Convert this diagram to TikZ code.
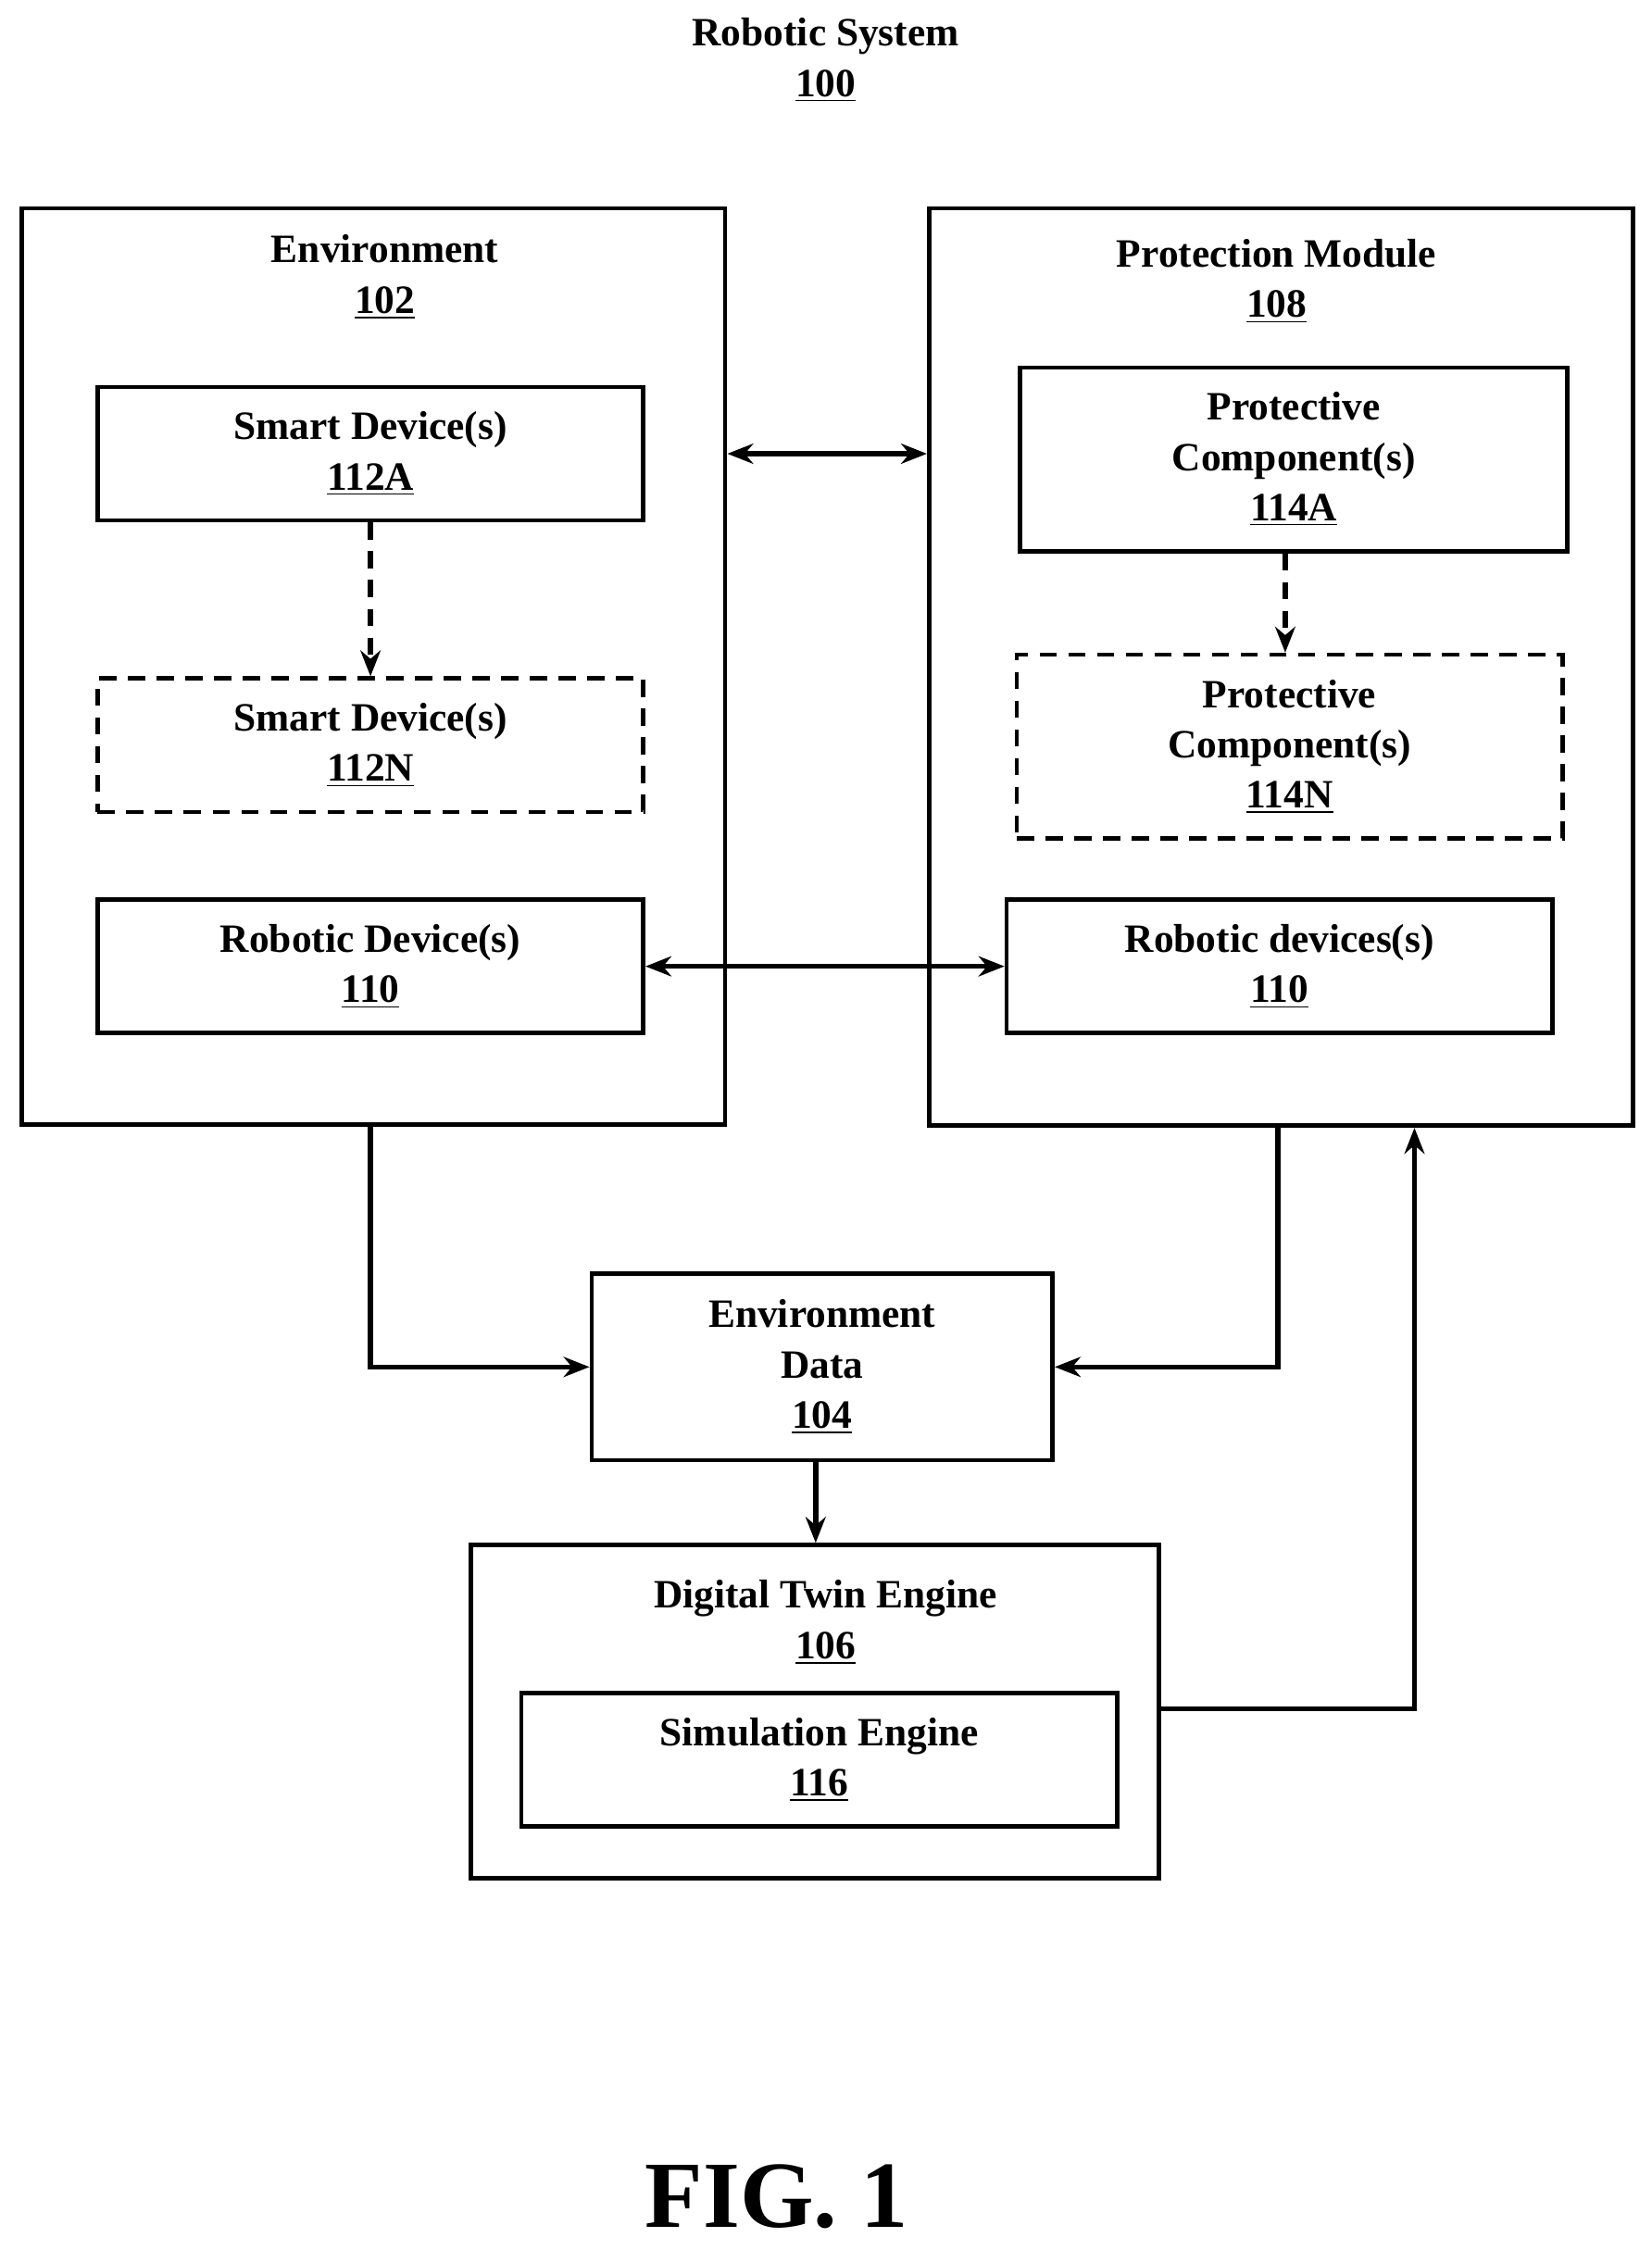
\documentclass[tikz,border=0pt]{standalone}
\usepackage{fontspec}
\setmainfont{Liberation Serif}
\usetikzlibrary{arrows.meta}
\tikzset{
    blk/.style={draw, line width=1.5pt, align=center, font=\bfseries\fontsize{14}{17.5}\selectfont, inner sep=0pt},
    dblk/.style={blk, dash pattern=on 6pt off 4pt},
    lbl/.style={align=center, font=\bfseries\fontsize{14}{17.5}\selectfont},
    conn/.style={draw, line width=1.8pt, -{Stealth[length=9pt,width=7pt]}},
    biconn/.style={draw, line width=1.8pt, {Stealth[length=9pt,width=7pt]}-{Stealth[length=9pt,width=7pt]}},
    dconn/.style={conn, dash pattern=on 6pt off 4pt},
}
\begin{document}
\begin{tikzpicture}[x=0.5pt,y=-0.5pt]
    \useasboundingbox (0,0) rectangle (1150,1567);
    \node[lbl] (title) at (575,42) {Robotic System\\\underline{100}};
    % environment
    \node[blk, minimum width=245pt, minimum height=319pt] (env) at (260,464) {};
    \node[lbl] (envlbl) at (268,193) {Environment\\\underline{102}};
    \node[blk, minimum width=190pt, minimum height=46.5pt] (sdA) at (258,316) {Smart Device(s)\\\underline{112A}};
    \node[dblk, minimum width=190pt, minimum height=46.5pt] (sdN) at (258,519) {Smart Device(s)\\\underline{112N}};
    \node[blk, minimum width=190pt, minimum height=46.5pt] (rdL) at (258,673) {Robotic Device(s)\\\underline{110}};
    % protection module
    \node[blk, minimum width=245pt, minimum height=319.5pt] (prot) at (892,464.5) {};
    \node[lbl] (protlbl) at (889,196) {Protection Module\\\underline{108}};
    \node[blk, minimum width=190.5pt, minimum height=64pt] (pcA) at (901,320) {Protective\\Component(s)\\\underline{114A}};
    \node[dblk, minimum width=190pt, minimum height=64pt] (pcN) at (898,520) {Protective\\Component(s)\\\underline{114N}};
    \node[blk, minimum width=190pt, minimum height=46.5pt] (rdR) at (891,673) {Robotic devices(s)\\\underline{110}};
    % data and engines
    \node[blk, minimum width=160.5pt, minimum height=65pt] (data) at (572.5,952) {Environment\\Data\\\underline{104}};
    \node[blk, minimum width=239.5pt, minimum height=116pt] (dte) at (567.5,1192) {};
    \node[lbl] (dtelbl) at (575,1130) {Digital Twin Engine\\\underline{106}};
    \node[blk, minimum width=207.5pt, minimum height=46.5pt] (sim) at (570.5,1225.5) {Simulation Engine\\\underline{116}};
    \node[font=\bfseries\fontsize{33}{36}\selectfont] (fig) at (541,1530) {FIG. 1};
    % connectors
    \draw[biconn] (env.east |- 0,316) -- (prot.west |- 0,316);
    \draw[biconn] (rdL.east) -- (rdR.west);
    \draw[dconn] (sdA.south) -- (sdN.north);
    \draw[dconn] (pcA.south -| 895,0) -- (pcN.north -| 895,0);
    \draw[conn] (env.south -| sdA.south) |- (data.west);
    \draw[conn] (prot.south -| 890,0) |- (data.east);
    \draw[conn] (data.south -| 568,0) -- (dte.north -| 568,0);
    \draw[conn] (dte.east |- 0,1190) -| (prot.south -| 985,0);
\end{tikzpicture}
\end{document}
